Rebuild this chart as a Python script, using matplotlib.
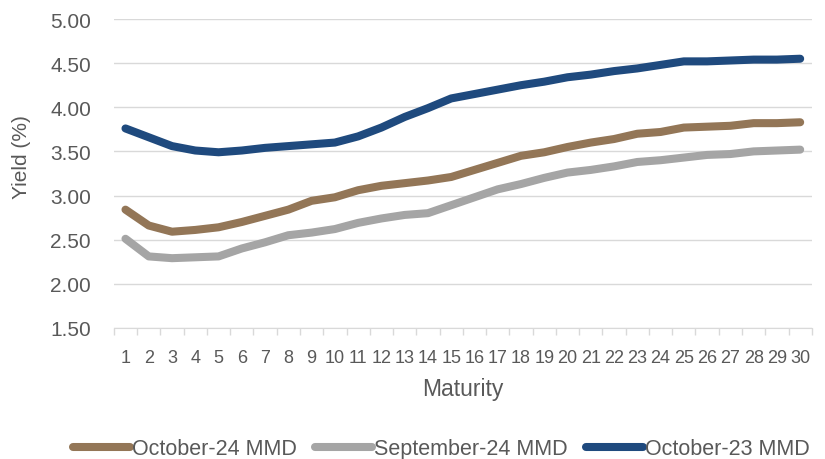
import matplotlib.pyplot as plt
import numpy as np

# Maturity in years and MMD yield curves (%)
maturity = list(range(1, 31))
oct_24 = [2.84, 2.66, 2.59, 2.61, 2.64, 2.70, 2.77, 2.84, 2.94, 2.98,
          3.06, 3.11, 3.14, 3.17, 3.21, 3.29, 3.37, 3.45, 3.49, 3.55,
          3.60, 3.64, 3.70, 3.72, 3.77, 3.78, 3.79, 3.82, 3.82, 3.83]
sep_24 = [2.51, 2.31, 2.29, 2.30, 2.31, 2.40, 2.47, 2.55, 2.58, 2.62,
          2.69, 2.74, 2.78, 2.80, 2.89, 2.98, 3.07, 3.13, 3.20, 3.26,
          3.29, 3.33, 3.38, 3.40, 3.43, 3.46, 3.47, 3.50, 3.51, 3.52]
oct_23 = [3.76, 3.66, 3.56, 3.51, 3.49, 3.51, 3.54, 3.56, 3.58, 3.60,
          3.67, 3.77, 3.89, 3.99, 4.10, 4.15, 4.20, 4.25, 4.29, 4.34,
          4.37, 4.41, 4.44, 4.48, 4.52, 4.52, 4.53, 4.54, 4.54, 4.55]
series_names = ['October-24 MMD', 'September-24 MMD', 'October-23 MMD']
colors = ['#937657', '#A5A5A5', '#1F4A7E']

plt.rcParams['font.family'] = ['Liberation Sans', 'DejaVu Sans']
grey_text = '#595959'

fig = plt.figure(figsize=(8.25, 4.6), dpi=100)
ax = fig.add_axes([0.138, 0.285, 0.846, 0.6715])

for vals, name, c in zip([oct_24, sep_24, oct_23], series_names, colors):
    ax.plot(maturity, vals, color=c, linewidth=5.8, label=name,
            solid_capstyle='round', solid_joinstyle='round')

ax.set_xlim(0.5, 30.5)
ax.set_ylim(1.5, 5.0)
yt = np.arange(1.5, 5.01, 0.5)
ax.set_yticks(yt)
ax.set_yticklabels([f'{v:.2f}' for v in yt])
ax.yaxis.grid(True, color='#D9D9D9', linewidth=1)
ax.set_axisbelow(True)

# category boundaries get the tick marks, labels sit at the centres
ax.set_xticks(np.arange(0.5, 30.6, 1))
ax.set_xticklabels([])
ax.set_xticks(maturity, minor=True)
ax.set_xticklabels([str(m) for m in maturity], minor=True)
ax.tick_params(axis='x', which='major', length=5, color='#D9D9D9', width=1)
ax.tick_params(axis='x', which='minor', length=0, pad=15, labelsize=13,
               labelcolor=grey_text)
ax.tick_params(axis='y', length=0, labelsize=15, labelcolor=grey_text, pad=16.5)

for s in ['top', 'right', 'left']:
    ax.spines[s].set_visible(False)
ax.spines['bottom'].set_color('#D9D9D9')

ax.set_xlabel('Maturity', fontsize=16.5, color=grey_text)
ax.xaxis.set_label_coords(0.5, -0.197)
ax.xaxis.label.set_va('center')
ax.set_ylabel('Yield (%)', fontsize=15, color=grey_text)
ax.yaxis.set_label_coords(-0.132, 0.557)
ax.yaxis.label.set_va('center')

fig.legend(loc='center', bbox_to_anchor=(0.535, 0.022), ncol=3,
           frameon=False, fontsize=15.5, labelcolor=grey_text,
           handlelength=2.65, handletextpad=0.1, columnspacing=0.85)

fig.savefig('out.png', dpi=100)
